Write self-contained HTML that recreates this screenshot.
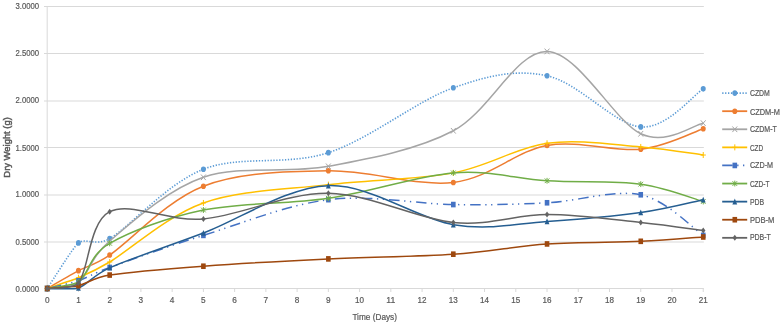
<!DOCTYPE html><html><head><meta charset="utf-8"><style>html,body{margin:0;padding:0;background:#fff;width:783px;height:325px;overflow:hidden}svg{display:block;will-change:transform}text{font-family:"Liberation Sans",sans-serif;fill:#595959;stroke:#595959;stroke-width:0.22px}</style></head><body>
<svg width="783" height="325" viewBox="0 0 783 325">
<rect width="783" height="325" fill="#fff"/>
<path d="M44.0,242.0 H703.84 M44.0,195.0 H703.84 M44.0,147.5 H703.84 M44.0,101.0 H703.84 M44.0,53.5 H703.84 M44.0,6.5 H703.84" stroke="#D9D9D9" stroke-width="1" fill="none"/>
<path d="M47.2,6 V288.5 M44,288.5 H703.84" stroke="#D9D9D9" stroke-width="1" fill="none"/>
<path d="M47.20,288.5 V292 M78.44,288.5 V292 M109.68,288.5 V292 M140.92,288.5 V292 M172.16,288.5 V292 M203.40,288.5 V292 M234.64,288.5 V292 M265.88,288.5 V292 M297.12,288.5 V292 M328.36,288.5 V292 M359.60,288.5 V292 M390.84,288.5 V292 M422.08,288.5 V292 M453.32,288.5 V292 M484.56,288.5 V292 M515.80,288.5 V292 M547.04,288.5 V292 M578.28,288.5 V292 M609.52,288.5 V292 M640.76,288.5 V292 M672.00,288.5 V292 M703.24,288.5 V292" stroke="#D9D9D9" stroke-width="1" fill="none"/>
<g font-size="9.2" text-anchor="end">
<text x="39.1" y="292.00" textLength="23.6" lengthAdjust="spacingAndGlyphs">0.0000</text>
<text x="39.1" y="245.00" textLength="23.6" lengthAdjust="spacingAndGlyphs">0.5000</text>
<text x="39.1" y="197.00" textLength="23.6" lengthAdjust="spacingAndGlyphs">1.0000</text>
<text x="39.1" y="151.00" textLength="23.6" lengthAdjust="spacingAndGlyphs">1.5000</text>
<text x="39.1" y="103.00" textLength="23.6" lengthAdjust="spacingAndGlyphs">2.0000</text>
<text x="39.1" y="56.00" textLength="23.6" lengthAdjust="spacingAndGlyphs">2.5000</text>
<text x="39.1" y="9.00" textLength="23.6" lengthAdjust="spacingAndGlyphs">3.0000</text>
</g><g font-size="9.2" text-anchor="middle">
<text x="47.20" y="303.20" textLength="4.6" lengthAdjust="spacingAndGlyphs">0</text>
<text x="78.44" y="303.20" textLength="4.6" lengthAdjust="spacingAndGlyphs">1</text>
<text x="109.68" y="303.20" textLength="4.6" lengthAdjust="spacingAndGlyphs">2</text>
<text x="140.92" y="303.20" textLength="4.6" lengthAdjust="spacingAndGlyphs">3</text>
<text x="172.16" y="303.20" textLength="4.6" lengthAdjust="spacingAndGlyphs">4</text>
<text x="203.40" y="303.20" textLength="4.6" lengthAdjust="spacingAndGlyphs">5</text>
<text x="234.64" y="303.20" textLength="4.6" lengthAdjust="spacingAndGlyphs">6</text>
<text x="265.88" y="303.20" textLength="4.6" lengthAdjust="spacingAndGlyphs">7</text>
<text x="297.12" y="303.20" textLength="4.6" lengthAdjust="spacingAndGlyphs">8</text>
<text x="328.36" y="303.20" textLength="4.6" lengthAdjust="spacingAndGlyphs">9</text>
<text x="359.60" y="303.20" textLength="9.0" lengthAdjust="spacingAndGlyphs">10</text>
<text x="390.84" y="303.20" textLength="9.0" lengthAdjust="spacingAndGlyphs">11</text>
<text x="422.08" y="303.20" textLength="9.0" lengthAdjust="spacingAndGlyphs">12</text>
<text x="453.32" y="303.20" textLength="9.0" lengthAdjust="spacingAndGlyphs">13</text>
<text x="484.56" y="303.20" textLength="9.0" lengthAdjust="spacingAndGlyphs">14</text>
<text x="515.80" y="303.20" textLength="9.0" lengthAdjust="spacingAndGlyphs">15</text>
<text x="547.04" y="303.20" textLength="9.0" lengthAdjust="spacingAndGlyphs">16</text>
<text x="578.28" y="303.20" textLength="9.0" lengthAdjust="spacingAndGlyphs">17</text>
<text x="609.52" y="303.20" textLength="9.0" lengthAdjust="spacingAndGlyphs">18</text>
<text x="640.76" y="303.20" textLength="9.0" lengthAdjust="spacingAndGlyphs">19</text>
<text x="672.00" y="303.20" textLength="9.0" lengthAdjust="spacingAndGlyphs">20</text>
<text x="703.24" y="303.20" textLength="9.0" lengthAdjust="spacingAndGlyphs">21</text>
</g>
<text x="374.7" y="319.6" font-size="9" text-anchor="middle" textLength="44.6" lengthAdjust="spacingAndGlyphs">Time (Days)</text>
<text transform="translate(10.2,147.4) rotate(-90)" x="0" y="0" font-size="8.6" style="stroke-width:0.45px" text-anchor="middle" textLength="60.5" lengthAdjust="spacingAndGlyphs">Dry Weight (g)</text>
<path d="M47.20,288.50 C52.41,280.90 73.23,247.07 78.44,242.91 C85.23,237.48 96.10,246.60 109.68,238.59 C130.51,226.30 166.95,183.53 203.40,169.21 C239.85,154.89 286.71,166.24 328.36,152.67 C370.01,139.10 416.87,100.63 453.32,87.81 C489.77,74.99 515.80,69.26 547.04,75.78 C578.28,82.30 614.73,124.74 640.76,126.91 C666.79,129.09 692.83,95.19 703.24,88.84" stroke="#5B9BD5" stroke-width="1.6" fill="none" stroke-dasharray="1.3 1.6"/>
<ellipse cx="47.20" cy="288.50" rx="2.50" ry="2.80" fill="#5B9BD5"/>
<ellipse cx="78.44" cy="242.91" rx="2.50" ry="2.80" fill="#5B9BD5"/>
<ellipse cx="109.68" cy="238.59" rx="2.50" ry="2.80" fill="#5B9BD5"/>
<ellipse cx="203.40" cy="169.21" rx="2.50" ry="2.80" fill="#5B9BD5"/>
<ellipse cx="328.36" cy="152.67" rx="2.50" ry="2.80" fill="#5B9BD5"/>
<ellipse cx="453.32" cy="87.81" rx="2.50" ry="2.80" fill="#5B9BD5"/>
<ellipse cx="547.04" cy="75.78" rx="2.50" ry="2.80" fill="#5B9BD5"/>
<ellipse cx="640.76" cy="126.91" rx="2.50" ry="2.80" fill="#5B9BD5"/>
<ellipse cx="703.24" cy="88.84" rx="2.50" ry="2.80" fill="#5B9BD5"/>
<path d="M47.20,288.50 C52.41,285.52 73.23,273.43 78.44,270.64 C85.67,266.77 95.21,264.81 109.68,255.04 C130.51,240.97 166.95,200.27 203.40,186.23 C239.85,172.19 286.71,171.44 328.36,170.81 C370.01,170.19 416.87,186.70 453.32,182.47 C489.77,178.24 515.80,150.98 547.04,145.43 C578.28,139.89 614.73,151.98 640.76,149.19 C666.79,146.40 692.83,132.12 703.24,128.70" stroke="#ED7D31" stroke-width="1.5" fill="none"/>
<ellipse cx="47.20" cy="288.50" rx="2.50" ry="2.80" fill="#ED7D31"/>
<ellipse cx="78.44" cy="270.64" rx="2.50" ry="2.80" fill="#ED7D31"/>
<ellipse cx="109.68" cy="255.04" rx="2.50" ry="2.80" fill="#ED7D31"/>
<ellipse cx="203.40" cy="186.23" rx="2.50" ry="2.80" fill="#ED7D31"/>
<ellipse cx="328.36" cy="170.81" rx="2.50" ry="2.80" fill="#ED7D31"/>
<ellipse cx="453.32" cy="182.47" rx="2.50" ry="2.80" fill="#ED7D31"/>
<ellipse cx="547.04" cy="145.43" rx="2.50" ry="2.80" fill="#ED7D31"/>
<ellipse cx="640.76" cy="149.19" rx="2.50" ry="2.80" fill="#ED7D31"/>
<ellipse cx="703.24" cy="128.70" rx="2.50" ry="2.80" fill="#ED7D31"/>
<path d="M47.20,288.50 C52.41,287.56 73.23,286.82 78.44,282.86 C88.41,275.28 89.74,257.88 109.68,241.03 C130.51,223.44 166.95,189.75 203.40,177.30 C239.85,164.84 286.71,174.06 328.36,166.30 C370.01,158.55 416.87,149.91 453.32,130.77 C489.77,111.62 515.80,50.93 547.04,51.43 C578.28,51.93 614.73,121.82 640.76,133.78 C666.79,145.73 692.83,124.92 703.24,123.15" stroke="#A5A5A5" stroke-width="1.5" fill="none"/>
<path d="M44.80,285.70 L49.60,291.30 M44.80,291.30 L49.60,285.70" stroke="#A5A5A5" stroke-width="1" fill="none"/>
<path d="M76.04,280.06 L80.84,285.66 M76.04,285.66 L80.84,280.06" stroke="#A5A5A5" stroke-width="1" fill="none"/>
<path d="M107.28,238.23 L112.08,243.83 M107.28,243.83 L112.08,238.23" stroke="#A5A5A5" stroke-width="1" fill="none"/>
<path d="M201.00,174.50 L205.80,180.10 M201.00,180.10 L205.80,174.50" stroke="#A5A5A5" stroke-width="1" fill="none"/>
<path d="M325.96,163.50 L330.76,169.10 M325.96,169.10 L330.76,163.50" stroke="#A5A5A5" stroke-width="1" fill="none"/>
<path d="M450.92,127.97 L455.72,133.57 M450.92,133.57 L455.72,127.97" stroke="#A5A5A5" stroke-width="1" fill="none"/>
<path d="M544.64,48.63 L549.44,54.23 M544.64,54.23 L549.44,48.63" stroke="#A5A5A5" stroke-width="1" fill="none"/>
<path d="M638.36,130.98 L643.16,136.58 M638.36,136.58 L643.16,130.98" stroke="#A5A5A5" stroke-width="1" fill="none"/>
<path d="M700.84,120.35 L705.64,125.95 M700.84,125.95 L705.64,120.35" stroke="#A5A5A5" stroke-width="1" fill="none"/>
<path d="M47.20,288.50 C52.41,286.71 73.23,279.99 78.44,277.78 C85.95,274.60 94.66,270.98 109.68,261.99 C130.51,249.52 166.95,215.85 203.40,202.96 C239.85,190.07 286.71,189.64 328.36,184.63 C370.01,179.62 416.87,179.77 453.32,172.88 C489.77,165.99 515.80,147.59 547.04,143.27 C578.28,138.95 614.73,144.98 640.76,146.94 C666.79,148.89 692.83,153.67 703.24,155.02" stroke="#FFC000" stroke-width="1.5" fill="none"/>
<path d="M47.20,285.50 L47.20,291.50 M44.60,288.50 L49.80,288.50" stroke="#FFC000" stroke-width="1" fill="none"/>
<path d="M78.44,274.78 L78.44,280.78 M75.84,277.78 L81.04,277.78" stroke="#FFC000" stroke-width="1" fill="none"/>
<path d="M109.68,258.99 L109.68,264.99 M107.08,261.99 L112.28,261.99" stroke="#FFC000" stroke-width="1" fill="none"/>
<path d="M203.40,199.96 L203.40,205.96 M200.80,202.96 L206.00,202.96" stroke="#FFC000" stroke-width="1" fill="none"/>
<path d="M328.36,181.63 L328.36,187.63 M325.76,184.63 L330.96,184.63" stroke="#FFC000" stroke-width="1" fill="none"/>
<path d="M453.32,169.88 L453.32,175.88 M450.72,172.88 L455.92,172.88" stroke="#FFC000" stroke-width="1" fill="none"/>
<path d="M547.04,140.27 L547.04,146.27 M544.44,143.27 L549.64,143.27" stroke="#FFC000" stroke-width="1" fill="none"/>
<path d="M640.76,143.94 L640.76,149.94 M638.16,146.94 L643.36,146.94" stroke="#FFC000" stroke-width="1" fill="none"/>
<path d="M703.24,152.02 L703.24,158.02 M700.64,155.02 L705.84,155.02" stroke="#FFC000" stroke-width="1" fill="none"/>
<path d="M47.20,288.50 C52.41,287.22 73.23,282.55 78.44,280.79 C86.42,278.10 93.72,273.24 109.68,267.44 C130.51,259.88 166.95,246.69 203.40,235.39 C239.85,224.09 286.71,204.81 328.36,199.67 C370.01,194.53 416.87,204.04 453.32,204.56 C489.77,205.07 515.80,204.40 547.04,202.77 C578.28,201.14 614.73,189.35 640.76,194.78 C666.79,200.22 692.83,228.62 703.24,235.39" stroke="#4472C4" stroke-width="1.5" fill="none" stroke-dasharray="10.5 4.5 1.3 4.5 1.3 5" stroke-dashoffset="23.30"/>
<rect x="44.90" y="285.70" width="4.60" height="5.60" fill="#4472C4"/>
<rect x="76.14" y="277.99" width="4.60" height="5.60" fill="#4472C4"/>
<rect x="107.38" y="264.64" width="4.60" height="5.60" fill="#4472C4"/>
<rect x="201.10" y="232.59" width="4.60" height="5.60" fill="#4472C4"/>
<rect x="326.06" y="196.87" width="4.60" height="5.60" fill="#4472C4"/>
<rect x="451.02" y="201.76" width="4.60" height="5.60" fill="#4472C4"/>
<rect x="544.74" y="199.97" width="4.60" height="5.60" fill="#4472C4"/>
<rect x="638.46" y="191.98" width="4.60" height="5.60" fill="#4472C4"/>
<rect x="700.94" y="232.59" width="4.60" height="5.60" fill="#4472C4"/>
<path d="M47.20,288.50 C52.41,287.40 73.23,285.68 78.44,281.92 C88.85,274.40 88.85,255.37 109.68,243.38 C130.51,231.39 166.95,217.53 203.40,210.01 C239.85,202.49 286.71,204.45 328.36,198.26 C370.01,192.07 416.87,175.79 453.32,172.88 C489.77,169.97 515.80,178.90 547.04,180.78 C578.28,182.66 614.73,180.70 640.76,184.16 C666.79,187.62 692.83,198.65 703.24,201.55" stroke="#70AD47" stroke-width="1.5" fill="none"/>
<path d="M44.90,286.18 L49.50,290.82 M44.90,290.82 L49.50,286.18 M47.20,285.60 L47.20,291.40" stroke="#70AD47" stroke-width="1" fill="none"/>
<path d="M76.14,279.60 L80.74,284.24 M76.14,284.24 L80.74,279.60 M78.44,279.02 L78.44,284.82" stroke="#70AD47" stroke-width="1" fill="none"/>
<path d="M107.38,241.06 L111.98,245.70 M107.38,245.70 L111.98,241.06 M109.68,240.48 L109.68,246.28" stroke="#70AD47" stroke-width="1" fill="none"/>
<path d="M201.10,207.69 L205.70,212.33 M201.10,212.33 L205.70,207.69 M203.40,207.11 L203.40,212.91" stroke="#70AD47" stroke-width="1" fill="none"/>
<path d="M326.06,195.94 L330.66,200.58 M326.06,200.58 L330.66,195.94 M328.36,195.36 L328.36,201.16" stroke="#70AD47" stroke-width="1" fill="none"/>
<path d="M451.02,170.56 L455.62,175.20 M451.02,175.20 L455.62,170.56 M453.32,169.98 L453.32,175.78" stroke="#70AD47" stroke-width="1" fill="none"/>
<path d="M544.74,178.46 L549.34,183.10 M544.74,183.10 L549.34,178.46 M547.04,177.88 L547.04,183.68" stroke="#70AD47" stroke-width="1" fill="none"/>
<path d="M638.46,181.84 L643.06,186.48 M638.46,186.48 L643.06,181.84 M640.76,181.26 L640.76,187.06" stroke="#70AD47" stroke-width="1" fill="none"/>
<path d="M700.94,199.23 L705.54,203.87 M700.94,203.87 L705.54,199.23 M703.24,198.65 L703.24,204.45" stroke="#70AD47" stroke-width="1" fill="none"/>
<path d="M47.20,288.50 C52.41,288.42 73.23,289.75 78.44,288.03 C86.95,285.21 92.65,275.31 109.68,267.82 C130.51,258.65 166.95,246.73 203.40,233.04 C239.85,219.35 286.71,187.06 328.36,185.66 C370.01,184.27 416.87,218.72 453.32,224.67 C489.77,230.63 515.80,223.41 547.04,221.38 C578.28,219.36 614.73,216.15 640.76,212.55 C666.79,208.94 692.83,201.89 703.24,199.76" stroke="#255E91" stroke-width="1.5" fill="none"/>
<path d="M47.20,285.40 L49.60,291.29 L44.80,291.29 Z" fill="#255E91"/>
<path d="M78.44,284.93 L80.84,290.82 L76.04,290.82 Z" fill="#255E91"/>
<path d="M109.68,264.72 L112.08,270.61 L107.28,270.61 Z" fill="#255E91"/>
<path d="M203.40,229.94 L205.80,235.83 L201.00,235.83 Z" fill="#255E91"/>
<path d="M328.36,182.56 L330.76,188.45 L325.96,188.45 Z" fill="#255E91"/>
<path d="M453.32,221.57 L455.72,227.46 L450.92,227.46 Z" fill="#255E91"/>
<path d="M547.04,218.28 L549.44,224.17 L544.64,224.17 Z" fill="#255E91"/>
<path d="M640.76,209.45 L643.16,215.34 L638.36,215.34 Z" fill="#255E91"/>
<path d="M703.24,196.66 L705.64,202.55 L700.84,202.55 Z" fill="#255E91"/>
<path d="M47.20,288.50 C52.41,288.03 73.23,286.80 78.44,285.68 C86.59,283.93 93.38,277.60 109.68,275.06 C130.51,271.81 166.95,268.92 203.40,266.22 C239.85,263.53 286.71,260.90 328.36,258.89 C370.01,256.88 416.87,256.68 453.32,254.19 C489.77,251.70 515.80,246.09 547.04,243.94 C578.28,241.80 614.73,242.47 640.76,241.31 C666.79,240.15 692.83,237.71 703.24,236.99" stroke="#9E480E" stroke-width="1.5" fill="none"/>
<rect x="44.90" y="285.70" width="4.60" height="5.60" fill="#9E480E"/>
<rect x="76.14" y="282.88" width="4.60" height="5.60" fill="#9E480E"/>
<rect x="107.38" y="272.26" width="4.60" height="5.60" fill="#9E480E"/>
<rect x="201.10" y="263.42" width="4.60" height="5.60" fill="#9E480E"/>
<rect x="326.06" y="256.09" width="4.60" height="5.60" fill="#9E480E"/>
<rect x="451.02" y="251.39" width="4.60" height="5.60" fill="#9E480E"/>
<rect x="544.74" y="241.14" width="4.60" height="5.60" fill="#9E480E"/>
<rect x="638.46" y="238.51" width="4.60" height="5.60" fill="#9E480E"/>
<rect x="700.94" y="234.19" width="4.60" height="5.60" fill="#9E480E"/>
<path d="M47.20,288.50 C52.20,287.63 73.23,289.45 78.44,283.05 C88.85,270.25 88.85,222.39 109.68,211.70 C130.51,201.02 166.95,222.01 203.40,218.94 C239.85,215.87 286.71,192.68 328.36,193.28 C370.01,193.87 416.87,218.96 453.32,222.51 C489.77,226.07 515.80,214.62 547.04,214.62 C578.28,214.62 614.73,219.85 640.76,222.51 C666.79,225.18 692.83,229.25 703.24,230.60" stroke="#636363" stroke-width="1.5" fill="none"/>
<path d="M47.20,285.50 L49.40,288.50 L47.20,291.50 L45.00,288.50 Z" fill="#636363"/>
<path d="M78.44,280.05 L80.64,283.05 L78.44,286.05 L76.24,283.05 Z" fill="#636363"/>
<path d="M109.68,208.70 L111.88,211.70 L109.68,214.70 L107.48,211.70 Z" fill="#636363"/>
<path d="M203.40,215.94 L205.60,218.94 L203.40,221.94 L201.20,218.94 Z" fill="#636363"/>
<path d="M328.36,190.28 L330.56,193.28 L328.36,196.28 L326.16,193.28 Z" fill="#636363"/>
<path d="M453.32,219.51 L455.52,222.51 L453.32,225.51 L451.12,222.51 Z" fill="#636363"/>
<path d="M547.04,211.62 L549.24,214.62 L547.04,217.62 L544.84,214.62 Z" fill="#636363"/>
<path d="M640.76,219.51 L642.96,222.51 L640.76,225.51 L638.56,222.51 Z" fill="#636363"/>
<path d="M703.24,227.60 L705.44,230.60 L703.24,233.60 L701.04,230.60 Z" fill="#636363"/>
<path d="M722.2,93.10 H747.2" stroke="#5B9BD5" stroke-width="1.92" fill="none" stroke-dasharray="1.3 1.6"/>
<ellipse cx="734.80" cy="93.10" rx="2.50" ry="2.80" fill="#5B9BD5"/>
<text x="749.9" y="96.00" font-size="9.2" textLength="20.0" lengthAdjust="spacingAndGlyphs">CZDM</text>
<path d="M722.2,111.19 H747.2" stroke="#ED7D31" stroke-width="1.7999999999999998" fill="none"/>
<ellipse cx="734.80" cy="111.19" rx="2.50" ry="2.80" fill="#ED7D31"/>
<text x="749.9" y="115.00" font-size="9.2" textLength="30.0" lengthAdjust="spacingAndGlyphs">CZDM-M</text>
<path d="M722.2,129.28 H747.2" stroke="#A5A5A5" stroke-width="1.7999999999999998" fill="none"/>
<path d="M732.40,126.48 L737.20,132.08 M732.40,132.08 L737.20,126.48" stroke="#A5A5A5" stroke-width="1" fill="none"/>
<text x="749.9" y="132.00" font-size="9.2" textLength="27.0" lengthAdjust="spacingAndGlyphs">CZDM-T</text>
<path d="M722.2,147.37 H747.2" stroke="#FFC000" stroke-width="1.7999999999999998" fill="none"/>
<path d="M734.80,144.37 L734.80,150.37 M732.20,147.37 L737.40,147.37" stroke="#FFC000" stroke-width="1" fill="none"/>
<text x="749.9" y="151.00" font-size="9.2" textLength="13.2" lengthAdjust="spacingAndGlyphs">CZD</text>
<path d="M722.2,165.46 H747.2" stroke="#4472C4" stroke-width="1.7999999999999998" fill="none" stroke-dasharray="10.5 4.5 1.3 4.5 1.3 5"/>
<rect x="732.50" y="162.66" width="4.60" height="5.60" fill="#4472C4"/>
<text x="749.9" y="168.00" font-size="9.2" textLength="23.2" lengthAdjust="spacingAndGlyphs">CZD-M</text>
<path d="M722.2,183.55 H747.2" stroke="#70AD47" stroke-width="1.7999999999999998" fill="none"/>
<path d="M732.50,181.23 L737.10,185.87 M732.50,185.87 L737.10,181.23 M734.80,180.65 L734.80,186.45" stroke="#70AD47" stroke-width="1" fill="none"/>
<text x="749.9" y="187.00" font-size="9.2" textLength="19.6" lengthAdjust="spacingAndGlyphs">CZD-T</text>
<path d="M722.2,201.64 H747.2" stroke="#255E91" stroke-width="1.7999999999999998" fill="none"/>
<path d="M734.80,198.54 L737.20,204.43 L732.40,204.43 Z" fill="#255E91"/>
<text x="749.9" y="205.00" font-size="9.2" textLength="14.2" lengthAdjust="spacingAndGlyphs">PDB</text>
<path d="M722.2,219.73 H747.2" stroke="#9E480E" stroke-width="1.7999999999999998" fill="none"/>
<rect x="732.50" y="216.93" width="4.60" height="5.60" fill="#9E480E"/>
<text x="749.9" y="223.00" font-size="9.2" textLength="24.4" lengthAdjust="spacingAndGlyphs">PDB-M</text>
<path d="M722.2,237.82 H747.2" stroke="#636363" stroke-width="1.7999999999999998" fill="none"/>
<path d="M734.80,234.82 L737.00,237.82 L734.80,240.82 L732.60,237.82 Z" fill="#636363"/>
<text x="749.9" y="240.00" font-size="9.2" textLength="21.0" lengthAdjust="spacingAndGlyphs">PDB-T</text>
</svg></body></html>
